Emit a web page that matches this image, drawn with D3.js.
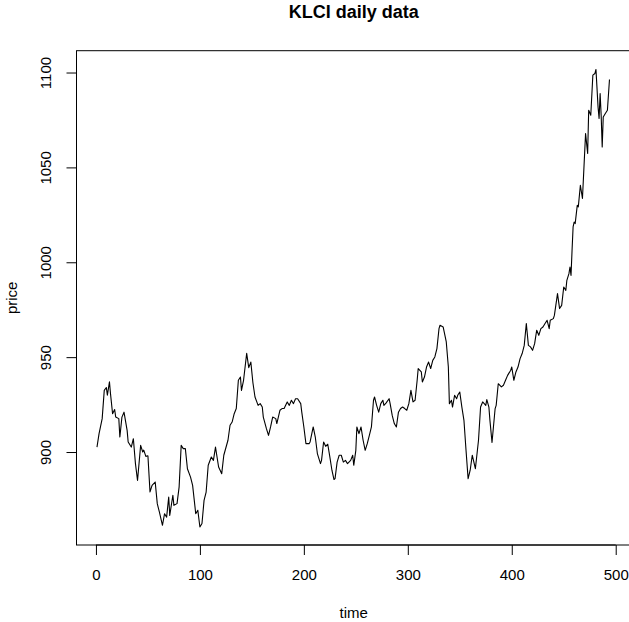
<!DOCTYPE html>
<html>
<head>
<meta charset="utf-8">
<script src="https://cdn.jsdelivr.net/npm/d3@7"></script>
<style>
  html, body { margin: 0; padding: 0; background: #fff; }
  svg text { font-family: "Liberation Sans", Arial, sans-serif; fill: #000; }
</style>
</head>
<body>
<div id="chart"></div>
<script>
// datos (dia, precio)
const time = [1, 3, 6, 8, 10, 11, 13, 14, 16, 18, 19, 22, 23, 25, 27, 30, 31, 34, 36, 38,
  40, 43, 45, 46, 48, 50, 52, 54, 57, 59, 61, 64, 66, 68, 70, 71, 74, 75, 78, 80,
  82, 84, 86, 88, 91, 93, 96, 98, 100, 102, 104, 106, 108, 111, 113, 115, 118, 121, 123, 127,
  129, 131, 133, 135, 137, 139, 140, 142, 145, 147, 149, 151, 153, 156, 158, 160, 161, 164, 166, 168,
  170, 173, 174, 177, 179, 181, 184, 186, 188, 190, 192, 194, 197, 198, 200, 202, 205, 206, 209, 211,
  213, 216, 217, 219, 221, 223, 225, 227, 229, 230, 232, 234, 236, 238, 240, 242, 245, 247, 248, 250,
  251, 253, 255, 257, 259, 261, 263, 265, 267, 268, 270, 272, 274, 276, 277, 279, 282, 283, 285, 287,
  289, 291, 293, 295, 297, 299, 301, 303, 305, 307, 309, 310, 313, 314, 316, 318, 320, 322, 324, 326,
  328, 330, 331, 334, 335, 337, 339, 340, 342, 343, 345, 347, 348, 350, 352, 354, 356, 358, 360, 362,
  365, 368, 370, 372, 375, 376, 378, 379, 381, 384, 385, 387, 390, 392, 394, 396, 399, 400, 402, 404,
  406, 408, 410, 412, 414, 416, 418, 420, 422, 424, 426, 428, 430, 432, 434, 436, 437, 440, 441, 444,
  446, 448, 450, 452, 453, 455, 456, 457, 458, 459, 460, 461, 463, 464, 466, 468, 469, 471, 473, 474,
  476, 478, 480, 481, 483, 484, 485, 486, 487, 488, 490, 492, 494];

const price = [902.6, 909.7, 917.6, 932.5, 934, 930, 937, 930.8, 920.2, 922.4, 918.5, 917.6, 907.9, 918.4, 921, 911.4, 905.3, 902.6, 907, 893.9,
  885, 903.5, 900, 901, 897.7, 898, 879, 882.4, 884.2, 872.8, 868.4, 861.4, 867.5, 865.7, 876.3, 866.6, 877.2, 871.9, 872.8, 881.5,
  903.5, 901.8, 901.8, 891.2, 886.8, 882.4, 867.5, 869.3, 860.5, 862.3, 874.5, 878.9, 893, 897.4, 895.6, 902.6, 892.1, 888.6, 898.3, 906.2,
  914.1, 915.8, 920.2, 922.9, 937.8, 939.5, 932.5, 937.8, 952, 944.5, 947.4, 936.5, 929, 924.6, 925.5, 923.7, 918.4, 912.3, 908.8, 913.2,
  918.4, 917.6, 915, 922, 922.9, 922.9, 926.4, 924.6, 927.3, 925.5, 928.1, 928.1, 925.5, 921, 913.2, 904.4, 904.4, 905.3, 913.2, 907.9,
  899.2, 893.9, 895.6, 905.3, 903, 904.1, 897.4, 890.4, 885.5, 886, 894.7, 898.3, 898.3, 894.7, 895.6, 893.9, 895.6, 898.3, 893, 900.9,
  913.2, 909.7, 913.2, 906.2, 900.9, 904.4, 908.8, 913.2, 927.3, 929, 924.6, 921, 925.5, 927.3, 924.6, 925.8, 928.1, 925.5, 919.3, 915,
  913.2, 921, 922.9, 923.7, 922.9, 922, 925.5, 932.5, 926.4, 927.3, 937.8, 944, 942.2, 936.9, 939.5, 944.8, 947.4, 944, 948.3, 950.1,
  954.5, 965, 966.8, 965.9, 963.3, 958, 944.8, 925.5, 927.3, 923.7, 929.9, 928.1, 929.9, 931.6, 923.7, 916.7, 900.9, 886, 890.4, 898.3,
  891.2, 906.2, 923.7, 926.4, 924.6, 927.6, 923.7, 916.7, 905, 922.9, 924.6, 936, 934.3, 935.2, 937.8, 940.4, 943.1, 944.8, 937.8, 942.2,
  944.8, 949.2, 951.9, 956.2, 967.7, 956.2, 955.4, 953.6, 957.1, 964.2, 961.5, 965, 965.9, 967.7, 969.4, 965, 969.4, 970.3, 972, 983.5,
  975.6, 977.3, 987, 985.2, 990.5, 994, 997.5, 993.1, 1006.3, 1018.6, 1021.2, 1020.4, 1030, 1029.2, 1040.6, 1033.6, 1045, 1067.8, 1057.3, 1080.1,
  1077.5, 1098.6, 1099.5, 1101.6, 1081.9, 1075.8, 1088.9, 1077.5, 1060.8, 1076.6, 1078.4, 1080.1, 1096.3];

const xTicks = [0, 100, 200, 300, 400, 500];
const yTicks = [900, 950, 1000, 1050, 1100];

const W = 629, H = 622;
const box = {left: 76.5, right: 631, top: 50.7, bottom: 545};
const FONT = '"Liberation Sans", Arial, sans-serif';

let svg = d3.select('#chart').append('svg')
  .attr('width', W).attr('height', H)
  .style('display', 'block');

svg.append('rect').attr('width', W).attr('height', H).attr('fill', '#fff');

let x = d3.scaleLinear().domain([-18.7, 514.7]).range([box.left, box.right]);
let y = d3.scaleLinear().domain([851, 1111.5]).range([box.bottom, box.top]);

let data = time.map(function(t, i) { return {t: t, p: price[i]}; });

// linea
let line = d3.line()
  .x(function(d) { return x(d.t); })
  .y(function(d) { return y(d.p); });

svg.append('path')
  .datum(data)
  .attr('d', line)
  .attr('fill', 'none')
  .attr('stroke', '#000')
  .attr('stroke-width', 1.1)
  .attr('stroke-linejoin', 'round');

// caja
svg.append('rect')
  .attr('x', box.left).attr('y', box.top)
  .attr('width', box.right - box.left).attr('height', box.bottom - box.top)
  .attr('fill', 'none').attr('stroke', '#000').attr('stroke-width', 1);

// ejes estilo R
let xAxis = svg.append('g').attr('transform', 'translate(0,' + box.bottom + ')')
  .call(d3.axisBottom(x).tickValues(xTicks).tickFormat(d3.format('d'))
    .tickSize(10).tickPadding(14).tickSizeOuter(0));
xAxis.select('.domain').attr('d', 'M' + x(0) + ',0H' + x(500));
xAxis.selectAll('text').attr('font-size', 15).style('font-family', FONT);

let yAxis = svg.append('g').attr('transform', 'translate(' + box.left + ',0)')
  .call(d3.axisLeft(y).tickValues(yTicks).tickFormat(d3.format('d'))
    .tickSize(10).tickSizeOuter(0));
yAxis.select('.domain').attr('d', 'M0,' + y(900) + 'V' + y(1100));
yAxis.selectAll('text')
  .attr('font-size', 15)
  .style('font-family', FONT)
  .attr('x', null).attr('dy', null)
  .attr('text-anchor', 'middle')
  .attr('transform', 'translate(-26,0) rotate(-90)');

// titulos
svg.append('text')
  .attr('x', (box.left + box.right) / 2).attr('y', 18)
  .attr('text-anchor', 'middle')
  .attr('font-size', 18).attr('font-weight', 'bold')
  .text('KLCI daily data');

svg.append('text')
  .attr('x', (box.left + box.right) / 2).attr('y', 618)
  .attr('text-anchor', 'middle')
  .attr('font-size', 15)
  .text('time');

svg.append('text')
  .attr('transform', 'translate(17,' + (box.top + box.bottom) / 2 + ') rotate(-90)')
  .attr('text-anchor', 'middle')
  .attr('font-size', 15)
  .text('price');
</script>
</body>
</html>
